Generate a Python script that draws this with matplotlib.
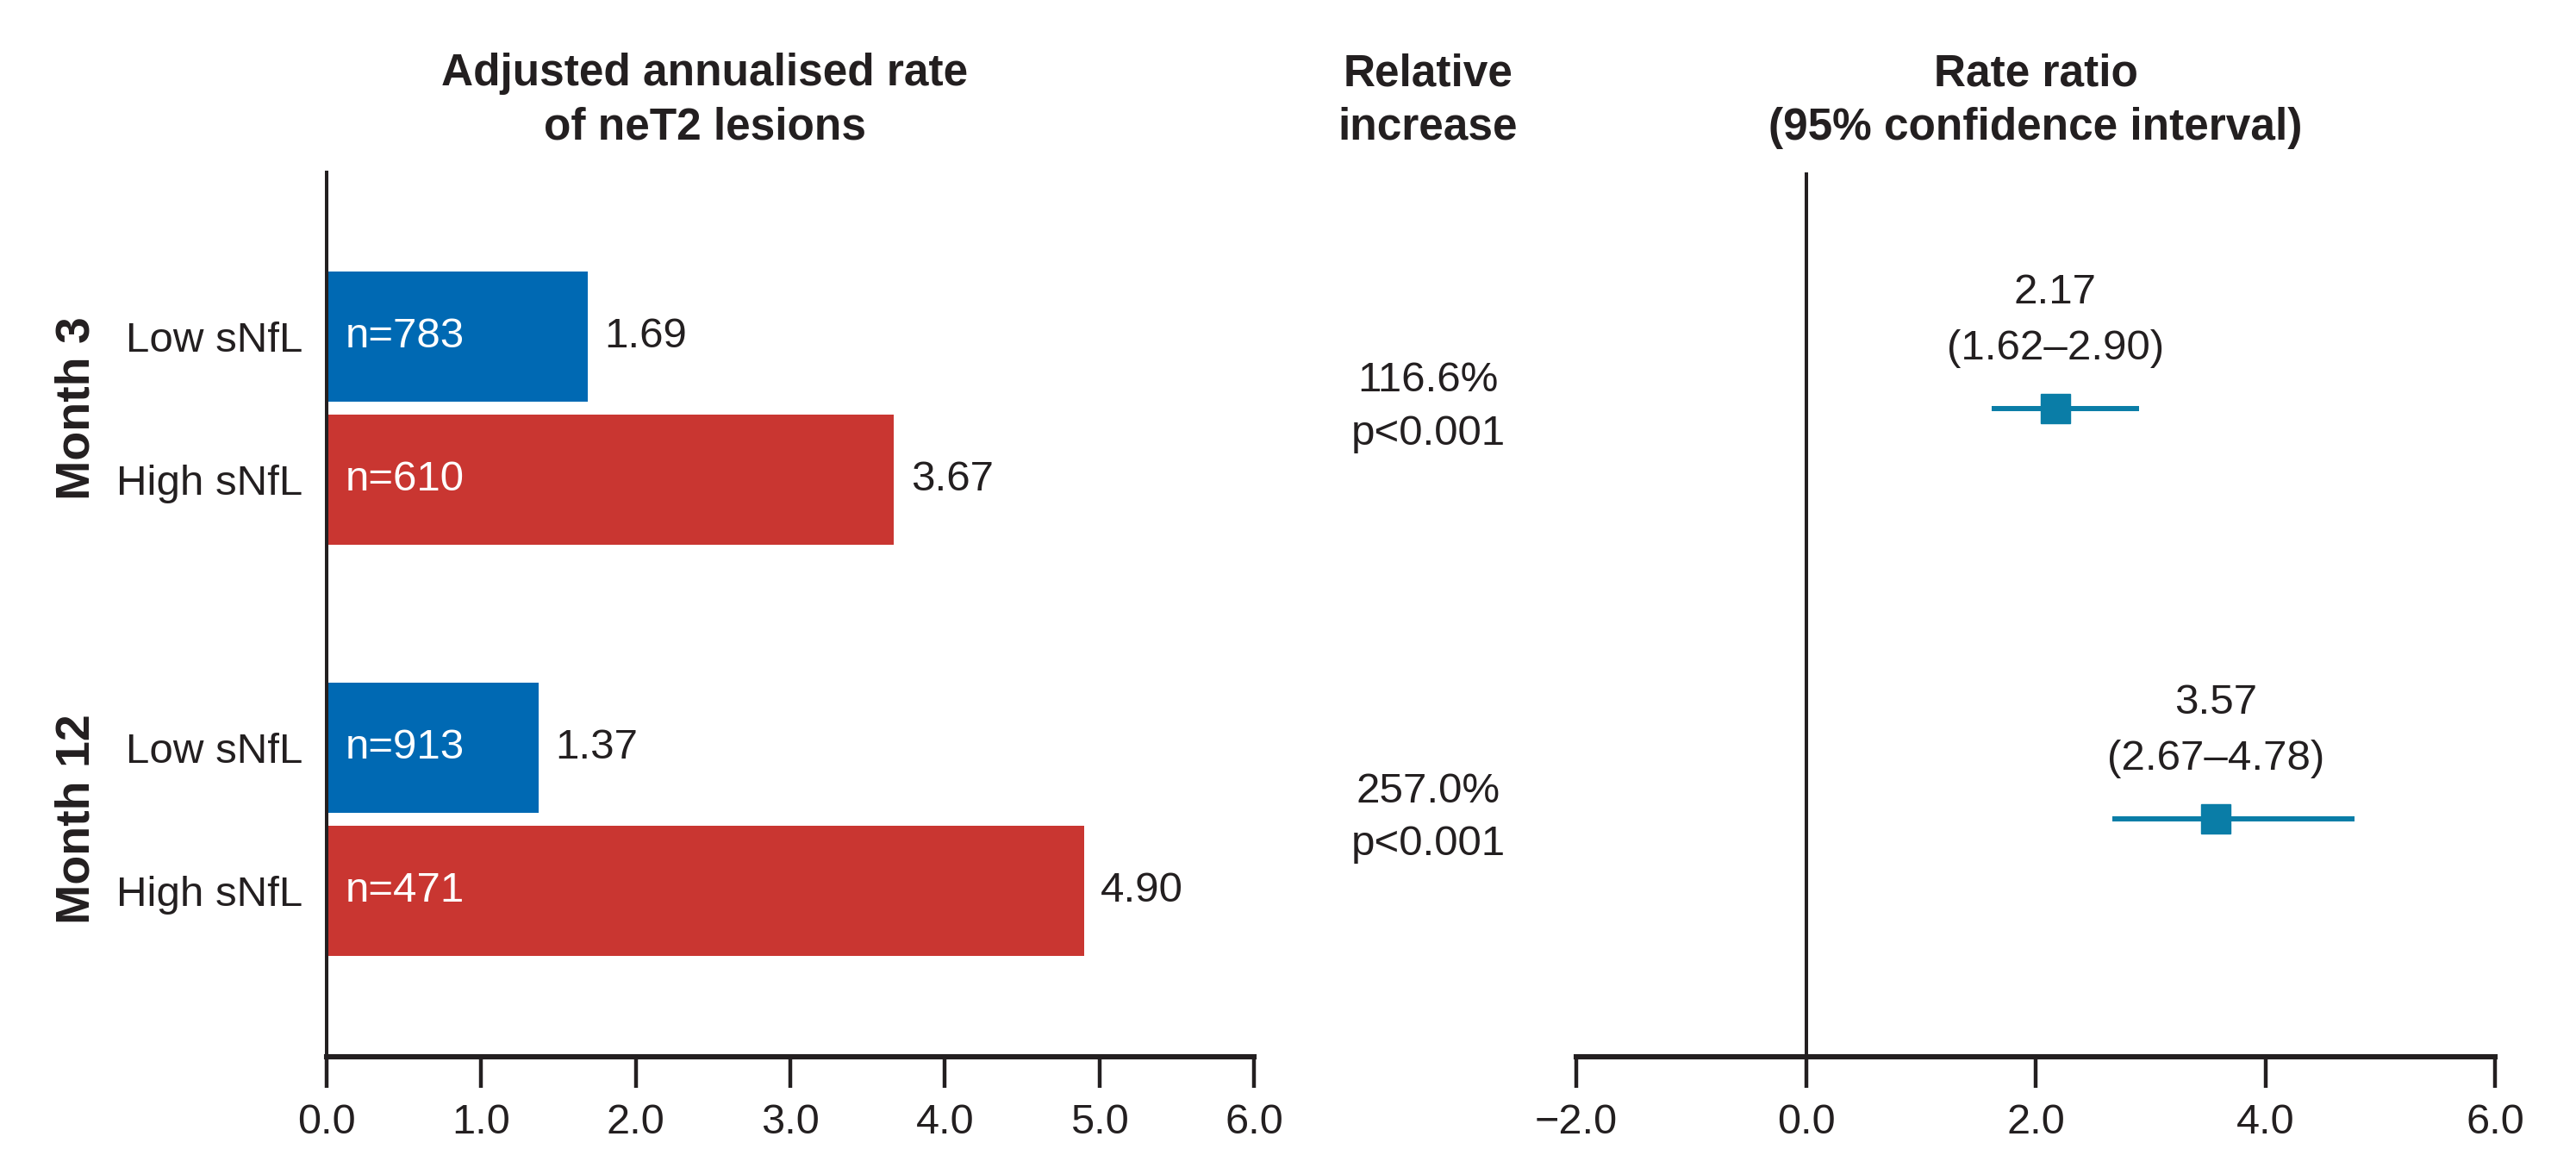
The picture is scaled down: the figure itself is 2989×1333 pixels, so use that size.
import numpy as np
import matplotlib.pyplot as plt
from matplotlib.transforms import blended_transform_factory, offset_copy

plt.rcParams['font.family'] = ['Liberation Sans', 'DejaVu Sans']
plt.rcParams['text.color'] = '#231F20'

# data
groups = ['Month 3', 'Month 12']
row_labels = ['Low sNfL', 'High sNfL', 'Low sNfL', 'High sNfL']
n_values = [783, 610, 913, 471]
rates = [1.69, 3.67, 1.37, 4.90]
rel_increase = ['116.6%', '257.0%']
p_values = ['p<0.001', 'p<0.001']
rate_ratio = [2.17, 3.57]
ci_low = [1.62, 2.67]
ci_high = [2.90, 4.78]

# layout
row_pos = [0, 1, 2.87, 3.87]
group_mid = [(row_pos[0] + row_pos[1]) / 2, (row_pos[2] + row_pos[3]) / 2]
blue = '#0069B3'
red = '#C93631'
teal = '#0A7DA7'
dark = '#231F20'
bar_colors = [blue, red, blue, red]
W, H = 2989, 1333
fs = 35.5

fig = plt.figure(figsize=(W / 100, H / 100), dpi=100)
ax1 = fig.add_axes([379 / W, 107 / H, 1076 / W, 1026 / H])
ax2 = fig.add_axes([1829 / W, 107 / H, 1066 / W, 1026 / H])

# left panel: bars
ax1.barh(row_pos, rates, height=0.91, color=bar_colors)
for y, r, n in zip(row_pos, rates, n_values):
    ax1.annotate(f'n={n}', (0, y), xytext=(16, 0), textcoords='offset points',
                 ha='left', va='center', color='white', fontsize=fs)
    ax1.annotate(f'{r:.2f}', (r, y), xytext=(14, 0), textcoords='offset points',
                 ha='left', va='center', color=dark, fontsize=fs)

ax1.set_xlim(0, 6)
ax1.set_ylim(5.03, -1.15)
ax1.set_xticks(np.arange(0, 7, 1))
ax1.set_xticklabels([f'{v:.1f}' for v in np.arange(0, 7, 1)])
ax1.set_yticks(row_pos)
ax1.set_yticklabels(row_labels)
for s in ['top', 'right']:
    ax1.spines[s].set_visible(False)
ax1.spines['left'].set_linewidth(2.9)
ax1.spines['bottom'].set_linewidth(4.4)
for s in ['left', 'bottom']:
    ax1.spines[s].set_color(dark)
ax1.tick_params(axis='x', length=26, width=3.2, pad=13, labelsize=35,
                color=dark, labelcolor=dark)
ax1.tick_params(axis='y', length=0, pad=20, labelsize=fs, labelcolor=dark)

# month labels
tr = blended_transform_factory(fig.transFigure, ax1.transData)
for g, m in zip(groups, group_mid):
    fig.text(90 / W, m, g, transform=tr, rotation=90, ha='center', va='center',
             fontsize=40, fontweight='bold', color=dark)

# right panel: rate ratio
ax2.axvline(0, color=dark, lw=2.9)
ax2.hlines(group_mid, ci_low, ci_high, color=teal, lw=4.3)
ax2.plot(rate_ratio, group_mid, 's', ms=25, color=teal)
for rr, lo, hi, m in zip(rate_ratio, ci_low, ci_high, group_mid):
    ax2.annotate(f'{rr:.2f}', (rr, m), xytext=(0, 97), textcoords='offset points',
                 ha='center', va='center', fontsize=fs)
    ax2.annotate(f'({lo:.2f}\u2013{hi:.2f})', (rr, m), xytext=(0, 50),
                 textcoords='offset points', ha='center', va='center', fontsize=fs)

ax2.set_xlim(-2, 6)
ax2.set_ylim(5.03, -1.15)
ax2.set_xticks(np.arange(-2, 7, 2))
ax2.set_xticklabels([f'{v:.1f}'.replace('-', '\u2212') for v in np.arange(-2, 7, 2)])
ax2.set_yticks([])
for s in ['top', 'right', 'left']:
    ax2.spines[s].set_visible(False)
ax2.spines['bottom'].set_linewidth(4.4)
ax2.spines['bottom'].set_color(dark)
ax2.tick_params(axis='x', length=26, width=3.2, pad=13, labelsize=35,
                color=dark, labelcolor=dark)

# relative increase column
tr2 = blended_transform_factory(fig.transFigure, ax2.transData)
up = offset_copy(tr2, fig=fig, x=0, y=23, units='points')
down = offset_copy(tr2, fig=fig, x=0, y=-21, units='points')
for ri, p, m in zip(rel_increase, p_values, group_mid):
    fig.text(1657 / W, m, ri, transform=up, ha='center', va='center', fontsize=fs)
    fig.text(1657 / W, m, p, transform=down, ha='center', va='center', fontsize=fs)

# column headers
headers = [
    (818, ['Adjusted annualised rate', 'of neT2 lesions']),
    (1657, ['Relative', 'increase']),
    (2362, ['Rate ratio', '(95% confidence interval)']),
]
for x, lines in headers:
    for line, yb in zip(lines, [99, 162]):
        fig.text(x / W, 1 - yb / H, line, ha='center', va='baseline',
                 fontsize=37, fontweight='bold', color=dark)

fig.savefig('out.png', dpi=100, facecolor='white')
